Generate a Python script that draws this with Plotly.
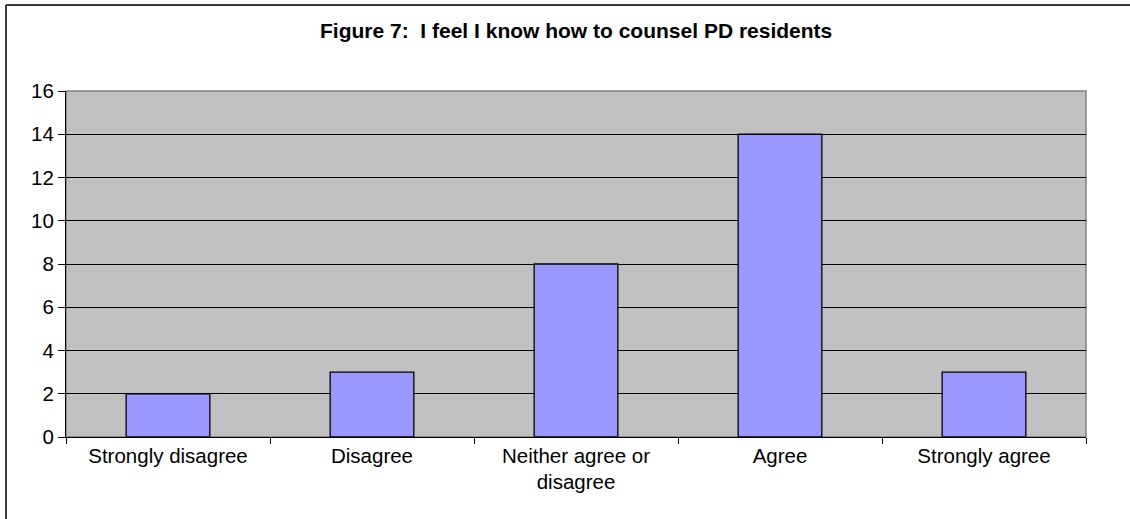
import plotly.graph_objects as go

# Survey responses for Figure 7
categories = ["Strongly disagree", "Disagree", "Neither agree or<br>disagree", "Agree", "Strongly agree"]
counts = [2, 3, 8, 14, 3]
y_ticks = [0, 2, 4, 6, 8, 10, 12, 14, 16]
title_text = "Figure 7:  I feel I know how to counsel PD residents"

W, H = 1130, 519
L, R, T, B = 66, 44, 91, 82
plot_w = W - L - R
plot_h = H - T - B

def px_to_paper_x(px):
    return (px - L) / plot_w

def px_to_paper_y(py):
    return (H - B - py) / plot_h

font_family = "Liberation Sans, Arial, sans-serif"
tick_size = 20.5

fig = go.Figure(
    go.Bar(
        x=categories,
        y=counts,
        marker=dict(color="#9999FF", line=dict(color="#000000", width=1.3)),
    )
)

fig.update_layout(
    width=W,
    height=H,
    margin=dict(l=L, r=R, t=T, b=B, pad=0),
    paper_bgcolor="#FFFFFF",
    plot_bgcolor="#C0C0C0",
    bargap=0.59,
    showlegend=False,
    font=dict(family=font_family, size=tick_size, color="#000000"),
    annotations=[
        dict(
            text="<b>" + title_text + "</b>",
            xref="paper", yref="paper",
            x=0.5, y=px_to_paper_y(31),
            xanchor="center", yanchor="middle",
            showarrow=False,
            font=dict(family=font_family, size=21, color="#000000"),
        )
    ],
    shapes=[
        # plot area frame
        dict(type="rect", xref="paper", yref="paper", x0=0, x1=1, y0=0, y1=1,
             line=dict(color="#808080", width=1.5), layer="below"),
        # outer chart border (top and left edges)
        dict(type="line", xref="paper", yref="paper",
             x0=px_to_paper_x(6), x1=px_to_paper_x(W + 10),
             y0=px_to_paper_y(5), y1=px_to_paper_y(5),
             line=dict(color="#3a3a3a", width=2)),
        dict(type="line", xref="paper", yref="paper",
             x0=px_to_paper_x(6), x1=px_to_paper_x(6),
             y0=px_to_paper_y(5), y1=px_to_paper_y(H + 10),
             line=dict(color="#3a3a3a", width=2)),
    ],
)

fig.update_xaxes(
    type="category",
    tickson="boundaries",
    ticks="outside",
    ticklen=6,
    tickcolor="#000000",
    tickwidth=1,
    showline=True,
    linecolor="#000000",
    linewidth=1,
    showgrid=False,
    tickfont=dict(family=font_family, size=tick_size, color="#000000"),
)

fig.update_yaxes(
    range=[0, 16],
    tickvals=y_ticks,
    ticks="outside",
    ticklen=7,
    tickcolor="#000000",
    tickwidth=1,
    showline=True,
    linecolor="#000000",
    linewidth=1,
    showgrid=True,
    gridcolor="#000000",
    gridwidth=1,
    zeroline=False,
    tickfont=dict(family=font_family, size=tick_size, color="#000000"),
)

fig.write_html("out.html")
